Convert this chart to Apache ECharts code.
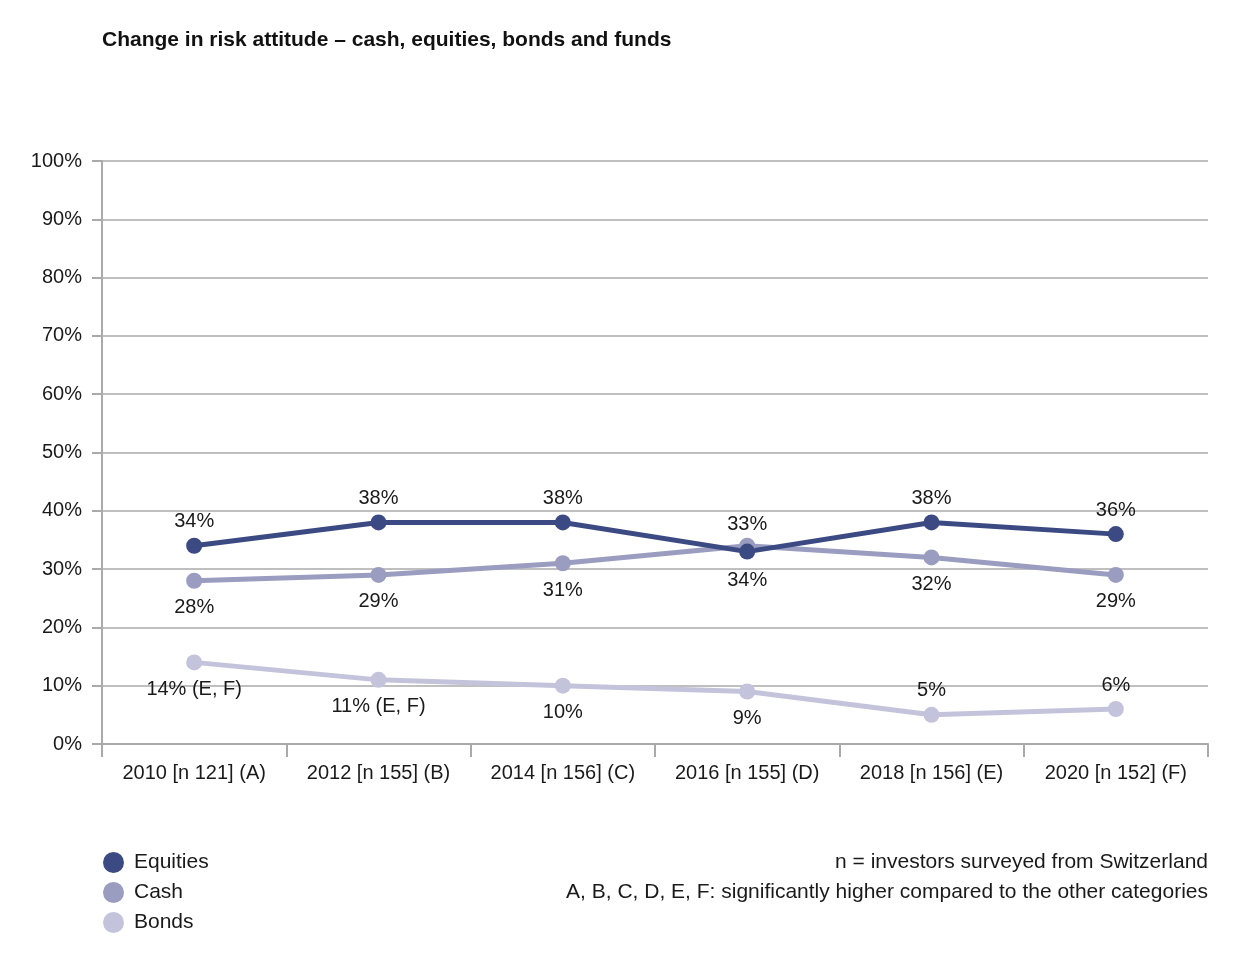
<!DOCTYPE html>
<html>
<head>
<meta charset="utf-8">
<script src="https://cdn.jsdelivr.net/npm/echarts@6/dist/echarts.min.js"></script>
<style>
html,body{margin:0;padding:0;background:#fff;}
#chart{width:1239px;height:962px;}
</style>
</head>
<body>
<div id="chart"></div>
<script>
const categories = ['2010 [n 121] (A)', '2012 [n 155] (B)', '2014 [n 156] (C)', '2016 [n 155] (D)', '2018 [n 156] (E)', '2020 [n 152] (F)'];
const equities = [34, 38, 38, 33, 38, 36];
const cash = [28, 29, 31, 34, 32, 29];
const bonds = [14, 11, 10, 9, 5, 6];
const bondsLabels = ['14% (E, F)', '11% (E, F)', '10%', '9%', '5%', '6%'];
const bondsLabelPos = ['bottom', 'bottom', 'bottom', 'bottom', 'top', 'top'];
const yTicks = [0, 10, 20, 30, 40, 50, 60, 70, 80, 90, 100];

const FONT = '"Liberation Sans", Arial, sans-serif';
const colors = { equities: '#3b4a82', cash: '#9a9dc0', bonds: '#c3c4dc' };

const chart = echarts.init(document.getElementById('chart'));

function mk(name, data, color, pos, dist) {
  return {
    name: name,
    type: 'line',
    data: data,
    symbol: 'circle',
    symbolSize: 16,
    lineStyle: { width: 5, color: color },
    itemStyle: { color: color },
    label: {
      show: true,
      position: pos,
      distance: dist,
      formatter: '{c}%',
      color: '#1a1a1a',
      fontSize: 20,
      fontFamily: FONT
    },
    emphasis: { disabled: true },
    animation: false
  };
}

const bondsSeries = mk('Bonds', bonds.map((v, i) => ({
  value: v,
  label: { position: bondsLabelPos[i], formatter: bondsLabels[i], distance: bondsLabelPos[i] === 'top' ? 6 : 9 }
})), colors.bonds, 'bottom', 9);

const cashSeries = mk('Cash', cash.map((v, i) => i === 3 ? { value: v, label: { distance: 17 } } : v), colors.cash, 'bottom', 9);
const equitiesSeries = mk('Equities', equities.map((v, i) => i === 3 ? { value: v, label: { distance: 9 } } : v), colors.equities, 'top', 6);

chart.setOption({
  animation: false,
  title: {
    text: 'Change in risk attitude – cash, equities, bonds and funds',
    left: 97,
    top: 25,
    textStyle: { fontSize: 21, fontWeight: 'bold', color: '#111', fontFamily: FONT }
  },
  legend: {
    orient: 'vertical',
    left: 98,
    top: 847,
    itemWidth: 21,
    itemHeight: 21,
    itemGap: 9,
    icon: 'circle',
    data: ['Equities', 'Cash', 'Bonds'],
    textStyle: { fontSize: 21, color: '#1a1a1a', fontFamily: FONT, padding: [0, 0, 0, 5] }
  },
  graphic: [
    { type: 'text', right: 31, top: 852, style: { text: 'n = investors surveyed from Switzerland', fontSize: 21, fill: '#1a1a1a', fontFamily: FONT } },
    { type: 'text', right: 31, top: 882, style: { text: 'A, B, C, D, E, F: significantly higher compared to the other categories', fontSize: 21, fill: '#1a1a1a', fontFamily: FONT } }
  ],
  grid: { left: 102, right: 31, top: 161, bottom: 218, containLabel: false },
  xAxis: {
    type: 'category',
    data: categories,
    boundaryGap: true,
    axisLine: { lineStyle: { color: '#aaaaaa', width: 2 } },
    axisTick: { show: true, length: 13, lineStyle: { color: '#aaaaaa', width: 2 } },
    axisLabel: { interval: 0, fontSize: 20, color: '#1a1a1a', fontFamily: FONT, margin: 19 }
  },
  yAxis: {
    type: 'value',
    min: 0,
    max: 100,
    interval: 10,
    axisLine: { show: true, lineStyle: { color: '#aaaaaa', width: 2 } },
    axisTick: { show: true, length: 10, lineStyle: { color: '#aaaaaa', width: 2 } },
    splitLine: { show: true, lineStyle: { color: '#aaaaaa', width: 1.5 } },
    axisLabel: { fontSize: 20, color: '#1a1a1a', fontFamily: FONT, margin: 20, formatter: v => yTicks.includes(v) ? v + '%' : '' }
  },
  series: [
    cashSeries,
    bondsSeries,
    equitiesSeries
  ]
});
</script>
</body>
</html>
